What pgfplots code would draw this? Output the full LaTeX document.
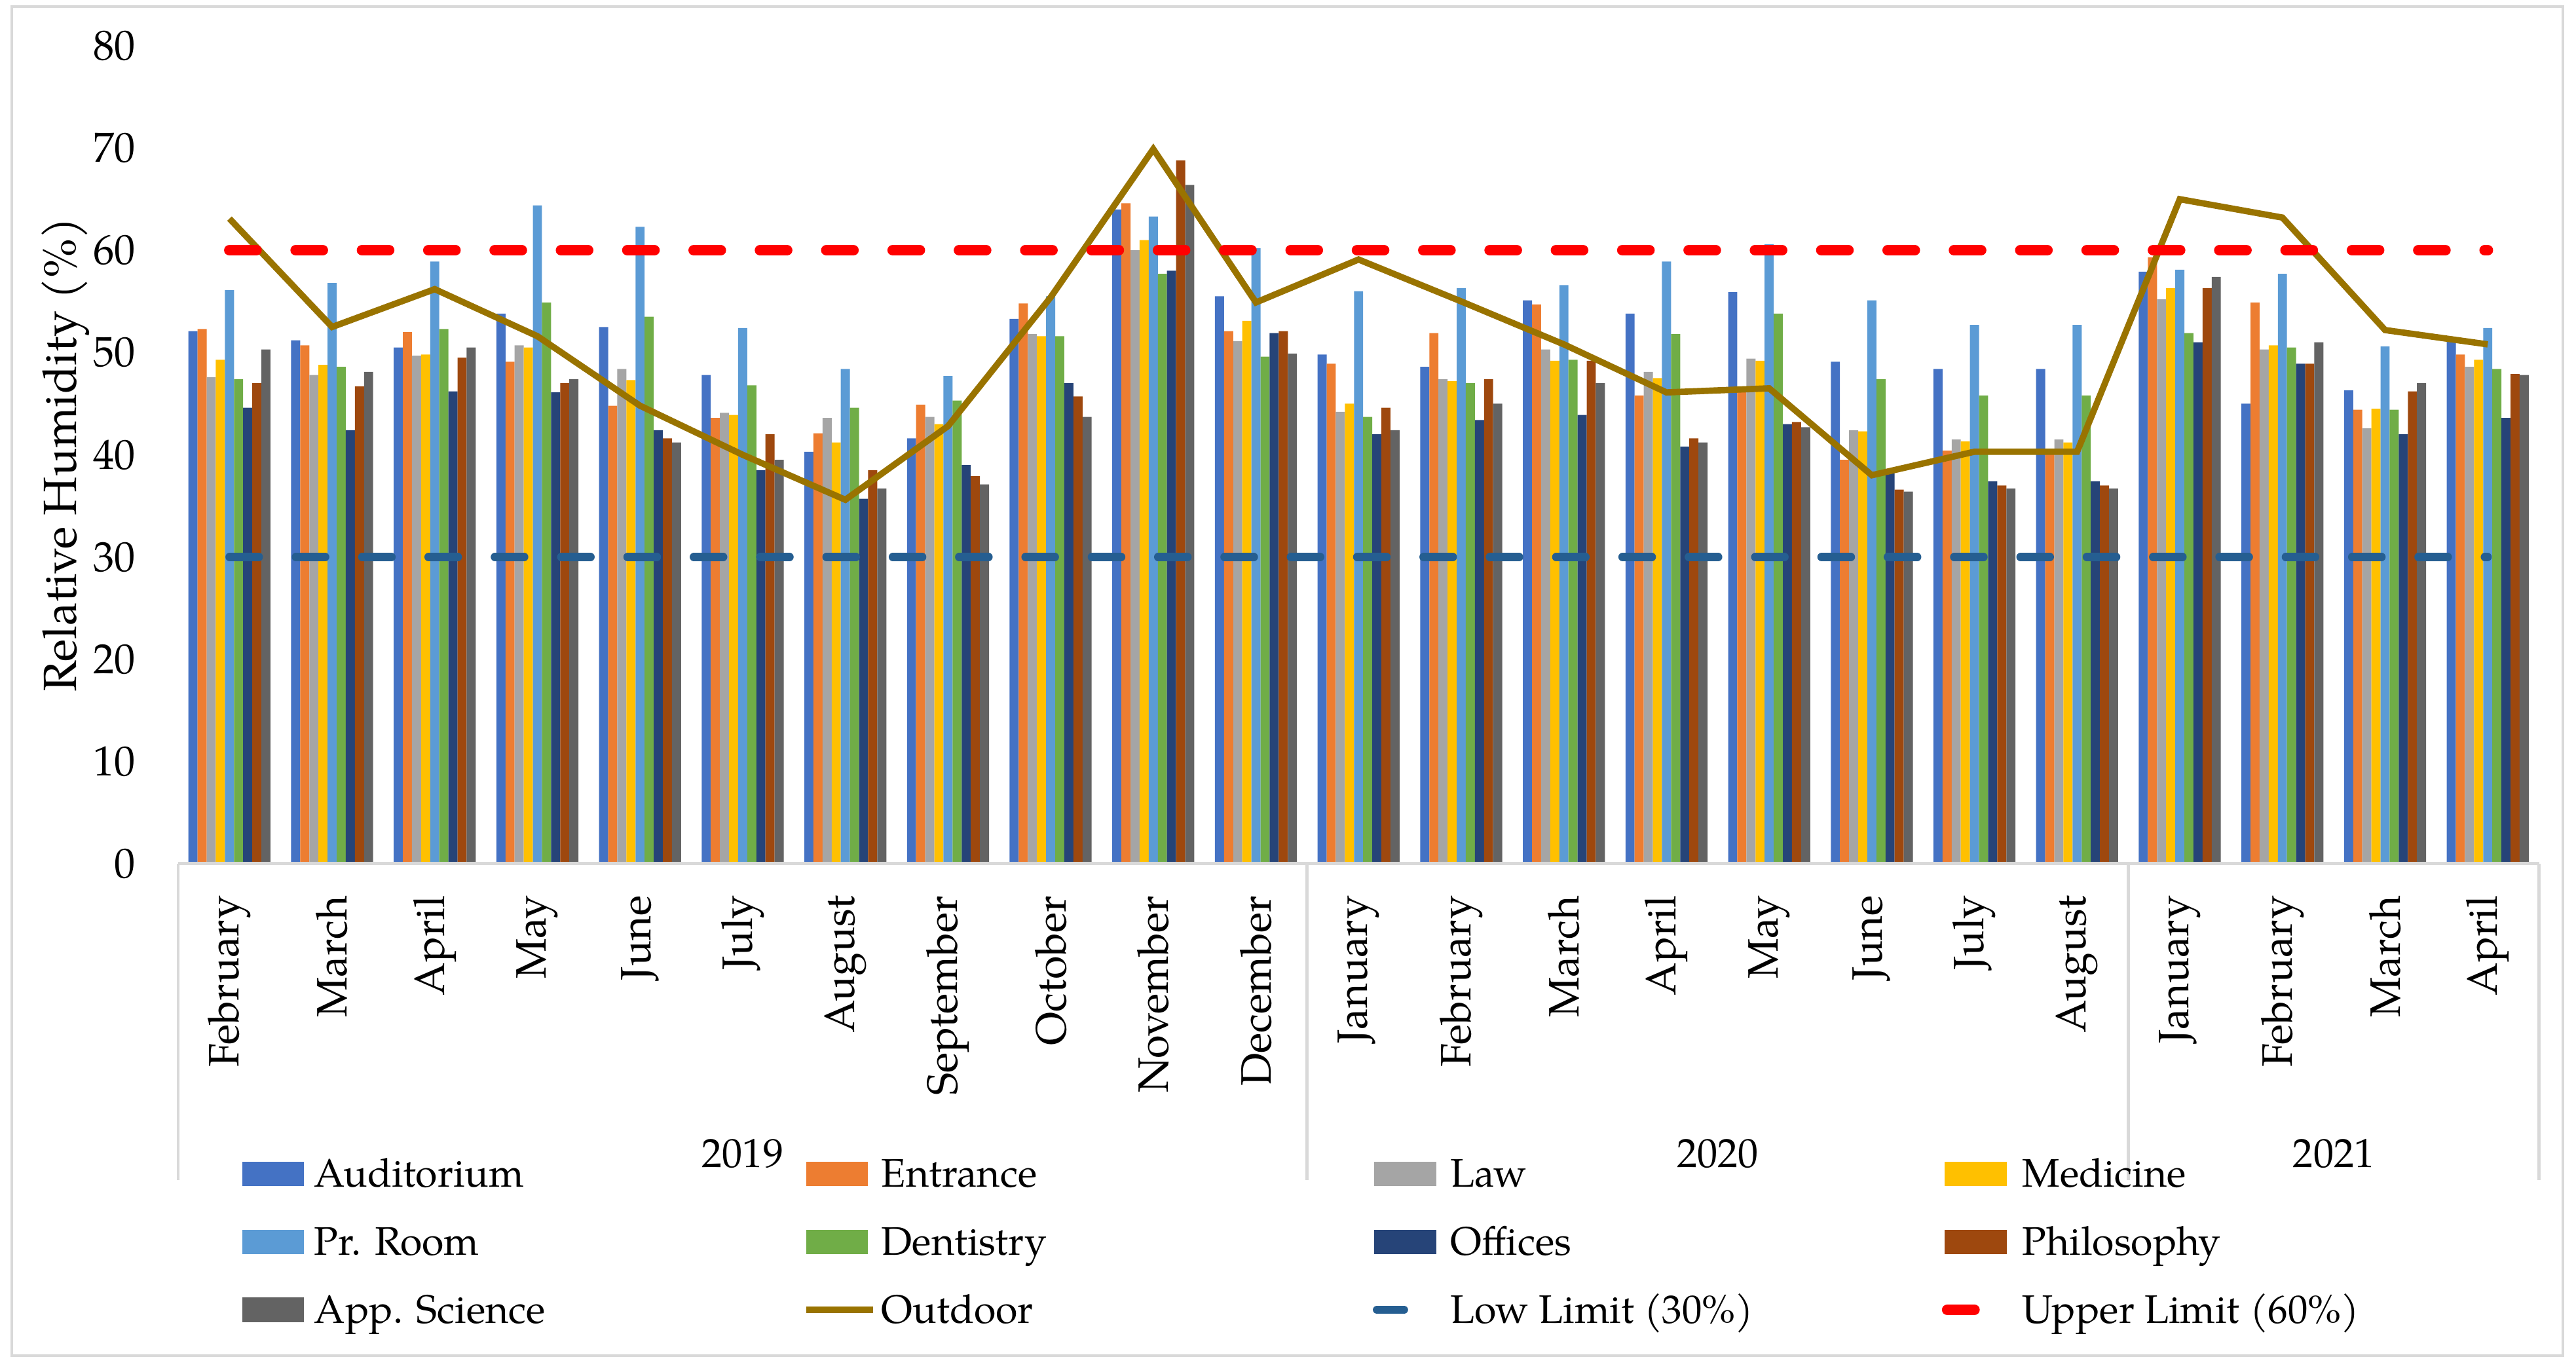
\documentclass[border=0pt]{standalone}
\usepackage{pgfplots}
\pgfplotsset{compat=1.18}
\usepackage{pgfplotstable}
\usepackage{fontspec}
\setmainfont{TeX Gyre Pagella}

\definecolor{cAud}{HTML}{4472C4}
\definecolor{cEnt}{HTML}{ED7D31}
\definecolor{cLaw}{HTML}{A5A5A5}
\definecolor{cMed}{HTML}{FFC000}
\definecolor{cPr}{HTML}{5B9BD5}
\definecolor{cDent}{HTML}{70AD47}
\definecolor{cOff}{HTML}{264478}
\definecolor{cPhil}{HTML}{9E480E}
\definecolor{cApp}{HTML}{636363}
\definecolor{cOut}{HTML}{997300}
\definecolor{cLow}{HTML}{255E91}
\definecolor{cUp}{HTML}{FF0000}
\definecolor{cAxis}{HTML}{D9D9D9}

\pgfplotstableread{
m  Aud  Ent  Law  Med  Pr   Dent Off  Phil App  Out
0  52.1 52.3 47.6 49.3 56.1 47.4 44.6 47.0 50.3 63.1
1  51.2 50.7 47.8 48.8 56.8 48.6 42.4 46.7 48.1 52.5
2  50.5 52.0 49.7 49.8 58.9 52.3 46.2 49.5 50.5 56.2
3  53.8 49.1 50.7 50.5 64.4 54.9 46.1 47.0 47.4 51.6
4  52.5 44.8 48.4 47.3 62.3 53.5 42.4 41.6 41.2 44.8
5  47.8 43.6 44.1 43.9 52.4 46.8 38.5 42.0 39.5 40.0
6  40.3 42.1 43.6 41.2 48.4 44.6 35.7 38.5 36.7 35.6
7  41.6 44.9 43.7 43.0 47.7 45.3 39.0 37.9 37.1 42.8
8  53.3 54.8 51.8 51.6 55.5 51.6 47.0 45.7 43.7 55.4
9  64.0 64.6 60.0 61.0 63.3 57.7 58.0 68.8 66.4 69.9
10 55.5 52.1 51.1 53.1 60.2 49.6 51.9 52.1 49.9 54.9
11 49.8 48.9 44.2 45.0 56.0 43.7 42.0 44.6 42.4 59.1
12 48.6 51.9 47.4 47.2 56.3 47.0 43.4 47.4 45.0 55.0
13 55.1 54.7 50.3 49.2 56.6 49.3 43.9 49.2 47.0 50.8
14 53.8 45.8 48.1 47.5 58.9 51.8 40.8 41.6 41.2 46.1
15 55.9 46.1 49.4 49.2 60.6 53.8 43.0 43.2 42.7 46.5
16 49.1 39.5 42.4 42.3 55.1 47.4 38.2 36.6 36.4 38.0
17 48.4 40.4 41.5 41.3 52.7 45.8 37.4 37.0 36.7 40.3
18 48.4 40.2 41.5 41.2 52.7 45.8 37.4 37.0 36.7 40.3
19 57.9 59.3 55.2 56.3 58.1 51.9 51.0 56.3 57.4 65.0
20 45.0 54.9 50.3 50.7 57.7 50.5 48.9 48.9 51.0 63.2
21 46.3 44.4 42.6 44.5 50.6 44.4 42.0 46.2 47.0 52.2
22 51.1 49.8 48.6 49.3 52.4 48.4 43.6 47.9 47.8 50.8
}\datatable

\pgfplotstableread{
m lim
0 30
22 30
}\lowtable
\pgfplotstableread{
m lim
0 60
22 60
}\uptable

\newcommand{\lentry}[1]{\makebox[3.795cm][l]{\strut #1}}

\pgfplotsset{
  common/.style={
    at={(1.383cm,3.946cm)}, anchor=south west,
    width=18.33cm, height=6.351cm, scale only axis,
    xmin=-0.5, xmax=22.5, ymin=0, ymax=80,
  },
  barleg/.style={legend image code/.code={%
      \fill[#1] (0cm,-0.095cm) rectangle (0.48cm,0.095cm);
      \path (0.56cm,0);}},
  outleg/.style={legend image code/.code={%
      \draw[#1] (0cm,0) -- (0.52cm,0); \path (0.56cm,0);}},
  limleg/.style={legend image code/.code={%
      \draw[#1, solid] (0.02cm,0) -- (0.23cm,0); \path (0cm,0) (0.56cm,0);}},
}

\begin{document}
\begin{tikzpicture}
\begin{axis}[common,
  ybar=0pt, bar width=0.0888,
  axis line style={draw=none},
  ytick={0,10,...,80},
  xtick={0,...,22},
  xticklabels={February,March,April,May,June,July,August,September,October,November,December,January,February,March,April,May,June,July,August,January,February,March,April},
  major tick length=0pt,
  /pgf/number format/assume math mode=true,
  xticklabel style={yshift=-0.24cm, rotate=90, anchor=east, inner sep=0pt, font=\fontsize{9.4}{11}\selectfont},
  yticklabel style={inner sep=0pt, xshift=-0.325cm, anchor=east, font=\fontsize{9.3}{11}\selectfont},
  ylabel={Relative Humidity (\%)},
  every axis y label/.style={at={(axis description cs:-0.0477,0.5)}, rotate=90, anchor=center, font=\fontsize{10.3}{12}\selectfont},
  clip=false,
]
\addplot[fill=cAud, draw=none] table[x=m,y=Aud]{\datatable};
\addplot[fill=cEnt, draw=none] table[x=m,y=Ent]{\datatable};
\addplot[fill=cLaw, draw=none] table[x=m,y=Law]{\datatable};
\addplot[fill=cMed, draw=none] table[x=m,y=Med]{\datatable};
\addplot[fill=cPr, draw=none] table[x=m,y=Pr]{\datatable};
\addplot[fill=cDent, draw=none] table[x=m,y=Dent]{\datatable};
\addplot[fill=cOff, draw=none] table[x=m,y=Off]{\datatable};
\addplot[fill=cPhil, draw=none] table[x=m,y=Phil]{\datatable};
\addplot[fill=cApp, draw=none] table[x=m,y=App]{\datatable};
\draw[cAxis, line width=0.7pt] (axis cs:-0.5,0) -- (axis cs:22.5,0);
\draw[cAxis, line width=0.7pt] (axis cs:-0.5,0) -- ++(0pt,-2.456cm);
\draw[cAxis, line width=0.7pt] (axis cs:10.5,0) -- ++(0pt,-2.456cm);
\draw[cAxis, line width=0.7pt] (axis cs:18.5,0) -- ++(0pt,-2.456cm);
\draw[cAxis, line width=0.7pt] (axis cs:22.5,0) -- ++(0pt,-2.456cm);
\node[yshift=-2.253cm, font=\fontsize{9}{11}\selectfont] at (axis cs:5,0) {2019};
\node[yshift=-2.253cm, font=\fontsize{9}{11}\selectfont] at (axis cs:14.5,0) {2020};
\node[yshift=-2.253cm, font=\fontsize{9}{11}\selectfont] at (axis cs:20.5,0) {2021};
\end{axis}

\begin{axis}[common, hide axis, clip=false,
  legend columns=4,
  legend cell align=left,
  legend style={at={(0.0271,-0.3549)}, anchor=north west, draw=none, fill=none,
    inner sep=0pt, outer sep=0pt, row sep=0.216cm, column sep=0pt,
    nodes={inner sep=0pt, outer sep=0pt},
    font=\fontsize{8.8}{10.5}\selectfont},
]
\addlegendimage{barleg, fill=cAud, draw=none}\addlegendentry{\lentry{Auditorium}}
\addlegendimage{barleg, fill=cEnt, draw=none}\addlegendentry{\lentry{Entrance}}
\addlegendimage{barleg, fill=cLaw, draw=none}\addlegendentry{\lentry{Law}}
\addlegendimage{barleg, fill=cMed, draw=none}\addlegendentry{\lentry{Medicine}}
\addlegendimage{barleg, fill=cPr, draw=none}\addlegendentry{\lentry{Pr. Room}}
\addlegendimage{barleg, fill=cDent, draw=none}\addlegendentry{\lentry{Dentistry}}
\addlegendimage{barleg, fill=cOff, draw=none}\addlegendentry{\lentry{Offices}}
\addlegendimage{barleg, fill=cPhil, draw=none}\addlegendentry{\lentry{Philosophy}}
\addlegendimage{barleg, fill=cApp, draw=none}\addlegendentry{\lentry{App. Science}}
\addplot[color=cOut, line width=1.4pt, mark=none, outleg]
  table[x=m,y=Out]{\datatable};
\addlegendentry{\lentry{Outdoor}}
\addplot[color=cLow, line width=1.8pt, line cap=round, mark=none,
  dash pattern=on 0.229cm off 0.286cm, limleg]
  table[x=m,y=lim]{\lowtable};
\addlegendentry{\lentry{Low Limit (30\%)}}
\addplot[color=cUp, line width=2.38pt, line cap=round, mark=none,
  dash pattern=on 0.209cm off 0.306cm, limleg]
  table[x=m,y=lim]{\uptable};
\addlegendentry{\lentry{Upper Limit (60\%)}}
\end{axis}

\draw[cAxis, line width=0.6pt] (0.09cm,0.127cm) rectangle (19.90cm,10.60cm);
\pgfresetboundingbox
\path (0,0) rectangle (20cm,10.653cm);
\end{tikzpicture}
\end{document}
